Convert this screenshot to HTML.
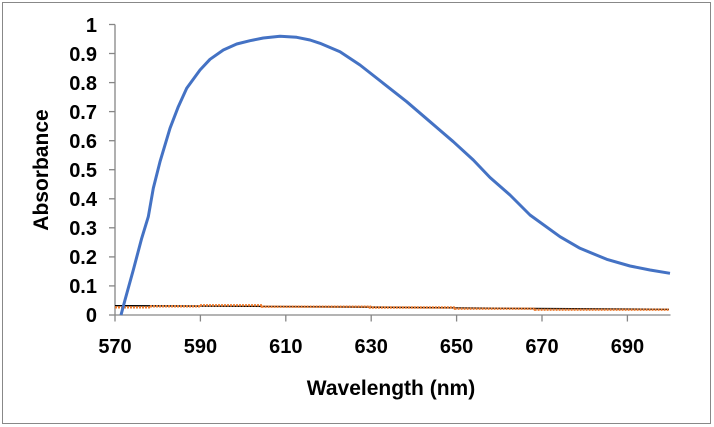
<!DOCTYPE html>
<html><head><meta charset="utf-8"><style>
html,body{margin:0;padding:0;background:#fff;}
svg{display:block;}
text{font-family:"Liberation Sans",Arial,sans-serif;font-weight:bold;fill:#000;}
</style></head><body>
<svg width="714" height="427" viewBox="0 0 714 427" xmlns="http://www.w3.org/2000/svg">
<rect x="0" y="0" width="714" height="427" fill="#fff"/>
<rect x="2.5" y="2.5" width="708" height="421" fill="none" stroke="#888" stroke-width="1"/>
<g stroke="#868686" stroke-width="1.3" fill="none">
<line x1="115" y1="24.5" x2="115" y2="315"/>
<line x1="115" y1="315" x2="670.5" y2="315"/>
<line x1="109" y1="24.5" x2="115" y2="24.5"/>
<line x1="109" y1="53.5" x2="115" y2="53.5"/>
<line x1="109" y1="82.6" x2="115" y2="82.6"/>
<line x1="109" y1="111.6" x2="115" y2="111.6"/>
<line x1="109" y1="140.7" x2="115" y2="140.7"/>
<line x1="109" y1="169.7" x2="115" y2="169.7"/>
<line x1="109" y1="198.8" x2="115" y2="198.8"/>
<line x1="109" y1="227.8" x2="115" y2="227.8"/>
<line x1="109" y1="256.9" x2="115" y2="256.9"/>
<line x1="109" y1="285.9" x2="115" y2="285.9"/>
<line x1="109" y1="315" x2="115" y2="315"/>
<line x1="115" y1="315" x2="115" y2="321.5"/>
<line x1="200.4" y1="315" x2="200.4" y2="321.5"/>
<line x1="285.8" y1="315" x2="285.8" y2="321.5"/>
<line x1="371.2" y1="315" x2="371.2" y2="321.5"/>
<line x1="456.6" y1="315" x2="456.6" y2="321.5"/>
<line x1="542" y1="315" x2="542" y2="321.5"/>
<line x1="627.4" y1="315" x2="627.4" y2="321.5"/>
</g>
<g font-size="20" text-anchor="end">
<text x="97" y="32">1</text>
<text x="97" y="61">0.9</text>
<text x="97" y="90">0.8</text>
<text x="97" y="119">0.7</text>
<text x="97" y="148">0.6</text>
<text x="97" y="177">0.5</text>
<text x="97" y="206">0.4</text>
<text x="97" y="235">0.3</text>
<text x="97" y="264">0.2</text>
<text x="97" y="293">0.1</text>
<text x="97" y="322">0</text>
</g>
<g font-size="20" text-anchor="middle">
<text x="115" y="353">570</text>
<text x="200.4" y="353">590</text>
<text x="285.8" y="353">610</text>
<text x="371.2" y="353">630</text>
<text x="456.6" y="353">650</text>
<text x="542" y="353">670</text>
<text x="627.4" y="353">690</text>
</g>
<text x="391" y="395" font-size="21" text-anchor="middle">Wavelength (nm)</text>
<text x="0" y="0" font-size="21" text-anchor="middle" transform="translate(48,170) rotate(-90)">Absorbance</text>
<polyline fill="none" stroke="#000" stroke-width="1.4" points="115,305.7 250,306.3 390,307.3 530,308.5 669,309.3"/>
<polyline fill="none" stroke="#ED7D31" stroke-width="2.4" stroke-dasharray="2 1" points="115,307.3 150,307.3 150,306.3 200,306.3 200,305.3 262,305.3 262,306.7 370,306.7 370,307.5 455,307.5 455,308.7 535,308.7 535,309.7 669,309.7"/>
<polyline fill="none" stroke="#4472C4" stroke-width="3" stroke-linejoin="round" stroke-linecap="butt" points="121,315 125,300 133.3,270 141.7,238.3 148.3,216.7 153.3,188.3 160,161.7 170,128.3 178.3,106.7 186.7,88.3 200,70 210,59.3 223.3,50 236.7,44 250,40.7 263.3,38 280,36.3 296.7,37.3 310,40 320,43.3 340,51.7 360,65 383.3,83.3 406.7,101.7 430,121.7 453.3,141.7 473.3,160 490,177.5 510,195 530,215 560,236.7 580,248.3 606.7,259.3 630,266 650,270 670,273.3"/>
</svg>
</body></html>
